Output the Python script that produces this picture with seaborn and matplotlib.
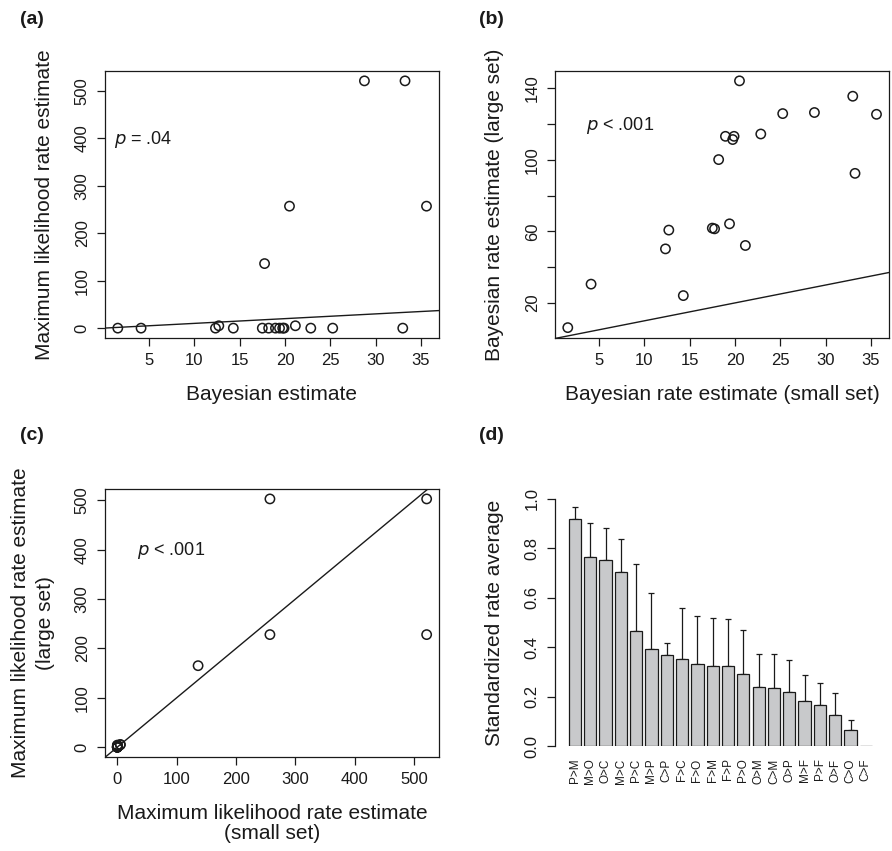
import numpy as np
import pandas as pd
import matplotlib
matplotlib.use("Agg")
import matplotlib.pyplot as plt
import seaborn as sns

# rate estimates per transition (small set / large set)
bayes_small = [1.55, 4.12, 12.33, 12.7, 14.3, 17.5, 17.75, 18.2, 18.95, 19.4,
               19.75, 19.9, 20.5, 21.15, 22.85, 25.27, 28.77, 33.0, 33.25, 35.62]
bayes_large = [6.2, 30.5, 50.2, 60.7, 24.1, 61.8, 61.4, 100.1, 113.1, 64.2,
               111.3, 113.1, 144.1, 52.1, 114.4, 125.8, 126.4, 135.5, 92.4, 125.4]
ml_small = [0, 0, 0, 5, 0, 0, 136, 0, 0, 0, 0, 0, 257, 5, 0, 0, 521, 0, 521, 257]
ml_large = [0, 2, 0, 5, 0, 3, 165, 0, 0, 4, 0, 0, 503, 5, 0, 0, 228, 0, 503, 228]

# standardized rate averages (panel d)
transitions = ["P>M", "M>O", "O>C", "M>C", "P>C", "M>P", "C>P", "F>C", "F>O", "F>M",
               "F>P", "P>O", "O>M", "C>M", "O>P", "M>F", "P>F", "O>F", "C>O", "C>F"]
rate_mean = [0.919, 0.764, 0.753, 0.703, 0.466, 0.392, 0.368, 0.354, 0.332, 0.324,
             0.322, 0.293, 0.238, 0.234, 0.220, 0.182, 0.164, 0.127, 0.064, 0.002]
rate_upper = [0.968, 0.901, 0.882, 0.839, 0.735, 0.620, 0.415, 0.558, 0.526, 0.518,
              0.516, 0.468, 0.374, 0.372, 0.347, 0.288, 0.254, 0.215, 0.107, 0.002]

sns.set_style("ticks")
plt.rcParams["font.family"] = ["Liberation Sans", "DejaVu Sans"]
plt.rcParams["axes.linewidth"] = 0.9
ink = "#1a1a1a"
plt.rcParams["text.color"] = ink
plt.rcParams["axes.labelcolor"] = ink
plt.rcParams["xtick.color"] = ink
plt.rcParams["ytick.color"] = ink
plt.rcParams["axes.edgecolor"] = ink

df = pd.DataFrame({"bayes_small": bayes_small, "bayes_large": bayes_large,
                   "ml_small": ml_small, "ml_large": ml_large})

W, H = 892, 851
fig = plt.figure(figsize=(W / 100, H / 100), dpi=100)


def px_axes(left, top, right, bottom):
    return fig.add_axes([left / W, 1 - bottom / H, (right - left) / W, (bottom - top) / H])


def r_style(ax, xticks, yticks, ylabels=None):
    ax.set_xticks(xticks)
    ax.set_yticks(yticks)
    if ylabels is not None:
        ax.set_yticklabels(ylabels)
    ax.tick_params(direction="out", length=6, width=0.9, labelsize=12, pad=5)
    ax.tick_params(axis="y", labelrotation=90)
    for lab in ax.get_yticklabels():
        lab.set_va("center")
    for s in ax.spines.values():
        s.set_visible(True)


def identity_line(ax):
    ax.plot([-1000, 1000], [-1000, 1000], color=ink, lw=1.0, zorder=1)


scatter_kw = dict(s=45, facecolor="none", edgecolor=ink, linewidth=1.1, zorder=3)

# (a)
ax = px_axes(105, 71, 439, 338)
sns.scatterplot(data=df, x="bayes_small", y="ml_small", ax=ax, **scatter_kw)
identity_line(ax)
ax.set_xlim(0.14, 37.0)
ax.set_ylim(-20.8, 541.8)
r_style(ax, [5, 10, 15, 20, 25, 30, 35], [0, 100, 200, 300, 400, 500])
ax.set_xlabel("Bayesian estimate", fontsize=15, labelpad=12)
ax.set_ylabel("Maximum likelihood rate estimate", fontsize=15, labelpad=15)
ax.text(1.1, 398, r"$\it{p}$ = .04", fontsize=13, va="center", ha="left")

# (b)
ax = px_axes(555, 71, 889, 338)
sns.scatterplot(data=df, x="bayes_small", y="bayes_large", ax=ax, **scatter_kw)
identity_line(ax)
ax.set_xlim(0.14, 37.0)
ax.set_ylim(0.4, 149.6)
r_style(ax, [5, 10, 15, 20, 25, 30, 35], [20, 40, 60, 80, 100, 120, 140],
        ["20", "", "60", "", "100", "", "140"])
ax.set_xlabel("Bayesian rate estimate (small set)", fontsize=15, labelpad=12)
ax.set_ylabel("Bayesian rate estimate (large set)", fontsize=15, labelpad=15)
ax.text(3.6, 119, r"$\it{p}$ < .001", fontsize=13, va="center", ha="left")

# (c)
ax = px_axes(105, 489, 439, 757)
sns.scatterplot(data=df, x="ml_small", y="ml_large", ax=ax, **scatter_kw)
identity_line(ax)
ax.set_xlim(-20.8, 541.8)
ax.set_ylim(-20.1, 523.1)
r_style(ax, [0, 100, 200, 300, 400, 500], [0, 100, 200, 300, 400, 500])
ax.set_xlabel("Maximum likelihood rate estimate\n(small set)", fontsize=15, labelpad=12,
              linespacing=1.1)
ax.set_ylabel("Maximum likelihood rate estimate\n(large set)", fontsize=15, labelpad=14,
              linespacing=1.45)
ax.text(33, 398, r"$\it{p}$ < .001", fontsize=13, va="center", ha="left")

# (d)
ax = px_axes(555, 499, 875, 746)
bar_df = pd.DataFrame({"transition": transitions, "mean": rate_mean, "upper": rate_upper})
sns.barplot(data=bar_df, x="transition", y="mean", order=transitions, ax=ax,
            color="#c8c9cb", saturation=1, edgecolor=ink, linewidth=0.9,
            width=0.8, errorbar=None, zorder=2)
has_err = bar_df["upper"] > bar_df["mean"]
pos = np.arange(len(transitions))[has_err.values]
ax.errorbar(pos, bar_df["mean"][has_err], yerr=[np.zeros(has_err.sum()),
            (bar_df["upper"] - bar_df["mean"])[has_err]],
            fmt="none", ecolor=ink, elinewidth=0.9, capsize=2, capthick=0.9, zorder=1)
ax.set_xlim(-1.3, 19.6)
ax.set_ylim(0, 1.0)
ax.set_yticks([0, 0.2, 0.4, 0.6, 0.8, 1.0])
ax.set_yticklabels(["0.0", "0.2", "0.4", "0.6", "0.8", "1.0"])
ax.tick_params(axis="y", direction="out", length=6, width=0.9, labelsize=12, pad=5,
               labelrotation=90)
for lab in ax.get_yticklabels():
    lab.set_va("center")
ax.tick_params(axis="x", length=0, labelsize=8.5, labelrotation=90, pad=9)
for s in ["top", "right", "bottom"]:
    ax.spines[s].set_visible(False)
ax.set_xlabel("")
ax.set_ylabel("Standardized rate average", fontsize=15, labelpad=15)

# panel letters
for txt, x, y in [("(a)", 20, 19), ("(b)", 479, 19), ("(c)", 20, 436), ("(d)", 479, 436)]:
    fig.text(x / W, 1 - y / H, txt, fontsize=14, fontweight="bold", va="center", ha="left")

fig.savefig("out.png", dpi=100)
